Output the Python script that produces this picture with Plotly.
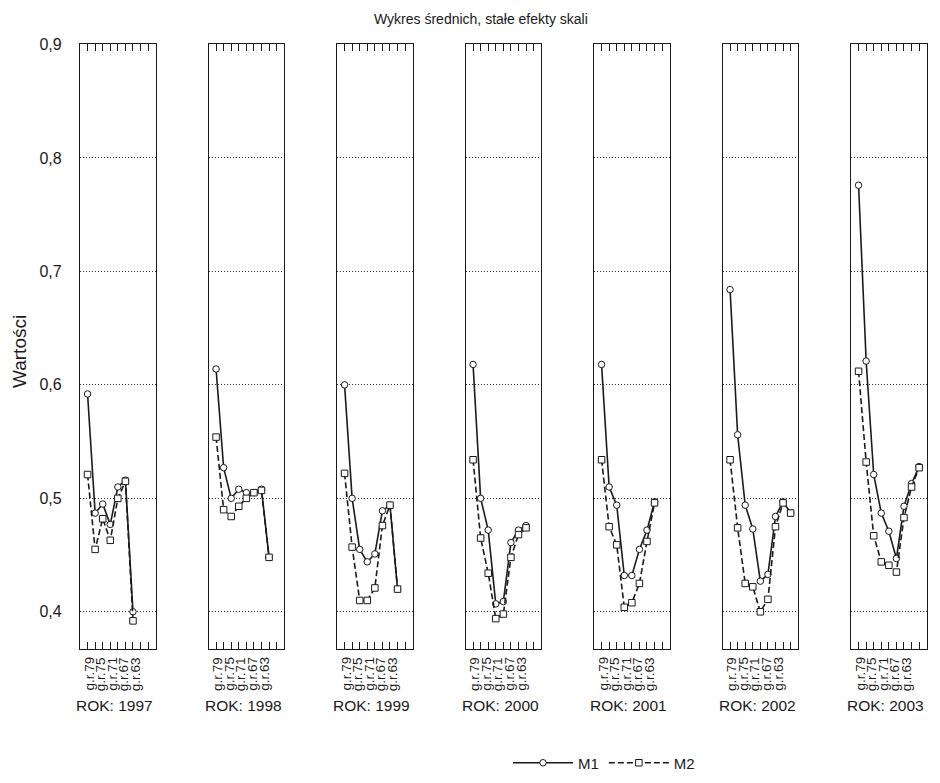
import plotly.graph_objects as go

# ---------------- data ----------------
CATEGORIES = ["g.r.79", "g.r.77", "g.r.75", "g.r.73", "g.r.71",
              "g.r.69", "g.r.67", "g.r.65", "g.r.63"]
SHOWN_LABELS = ["g.r.79", "g.r.75", "g.r.71", "g.r.67", "g.r.63"]
LABEL_POS = [0.13, 1.68, 3.2, 4.7, 6.3]   # where the original printed the labels (category units)
YEARS = ["1997", "1998", "1999", "2000", "2001", "2002", "2003"]

M1_1997 = [0.592, 0.487, 0.495, 0.477, 0.510, 0.516, 0.400]
M2_1997 = [0.521, 0.455, 0.482, 0.463, 0.500, 0.515, 0.392]
M1_1998 = [0.614, 0.527, 0.500, 0.508, 0.505, 0.505, 0.508, 0.448]
M2_1998 = [0.554, 0.490, 0.484, 0.493, 0.500, 0.505, 0.507, 0.448]
M1_1999 = [0.600, 0.500, 0.455, 0.444, 0.451, 0.489, 0.494, 0.420]
M2_1999 = [0.522, 0.457, 0.410, 0.410, 0.421, 0.476, 0.494, 0.420]
M1_2000 = [0.618, 0.500, 0.472, 0.407, 0.409, 0.461, 0.472, 0.476]
M2_2000 = [0.534, 0.465, 0.434, 0.394, 0.398, 0.448, 0.468, 0.474]
M1_2001 = [0.618, 0.510, 0.494, 0.432, 0.432, 0.455, 0.472, 0.497]
M2_2001 = [0.534, 0.475, 0.459, 0.404, 0.408, 0.425, 0.462, 0.496]
M1_2002 = [0.684, 0.556, 0.494, 0.473, 0.427, 0.433, 0.484, 0.497, 0.487]
M2_2002 = [0.534, 0.474, 0.425, 0.422, 0.400, 0.411, 0.475, 0.496, 0.487]
M1_2003 = [0.776, 0.621, 0.521, 0.487, 0.471, 0.447, 0.493, 0.513, 0.528]
M2_2003 = [0.612, 0.532, 0.467, 0.444, 0.441, 0.435, 0.483, 0.510, 0.527]

M1 = [M1_1997, M1_1998, M1_1999, M1_2000, M1_2001, M1_2002, M1_2003]
M2 = [M2_1997, M2_1998, M2_1999, M2_2000, M2_2001, M2_2002, M2_2003]

Y_TICKS = [0.4, 0.5, 0.6, 0.7, 0.8, 0.9]
Y_TICK_TEXT = ["0,4", "0,5", "0,6", "0,7", "0,8", "0,9"]

# ---------------- layout geometry ----------------
OFF = 8  # default page body margin
W, H = 940 - OFF, 783 - 2 * OFF
FONT = "Liberation Sans, Arial, sans-serif"
INK = "#1a1a1a"


def px_x(x):
    return (x - OFF) / W


def px_y(y):
    return 1 - (y - OFF) / H


PANEL_LEFT0 = 80.0
PANEL_STEP = 128.5
PANEL_W = 75.7
TOP_PX, BOT_PX = 44.3, 649.0
ydom = [px_y(BOT_PX), px_y(TOP_PX)]

fig = go.Figure()
annotations = []

for k, year in enumerate(YEARS):
    ax = "" if k == 0 else str(k + 1)
    xref = "x" + ax
    yref = "y" + ax
    m1 = M1[k]
    m2 = M2[k]
    fig.add_trace(go.Scatter(
        x=list(range(len(m1))), y=m1, xaxis=xref, yaxis=yref,
        mode="lines+markers", name="M1", showlegend=(k == 0),
        line=dict(color=INK, width=1.6),
        marker=dict(symbol="circle", size=6.5, color="white",
                    line=dict(color=INK, width=1)),
        cliponaxis=False,
    ))
    fig.add_trace(go.Scatter(
        x=list(range(len(m2))), y=m2, xaxis=xref, yaxis=yref,
        mode="lines+markers", name="M2", showlegend=(k == 0),
        line=dict(color=INK, width=1.6, dash="6px,3px"),
        marker=dict(symbol="square", size=6.5, color="white",
                    line=dict(color=INK, width=1)),
        cliponaxis=False,
    ))

    left = PANEL_LEFT0 + PANEL_STEP * k
    xdom = [px_x(left), px_x(left + PANEL_W)]
    fig.layout["xaxis" + ax] = dict(
        domain=xdom, anchor=yref, range=[-1, len(CATEGORIES)],
        tickmode="array", tickvals=list(range(len(CATEGORIES))),
        ticks="inside", ticklen=7, tickwidth=1.2, tickcolor=INK,
        showticklabels=False, showgrid=False, zeroline=False,
        showline=True, linecolor=INK, linewidth=1.3, mirror="allticks",
        automargin=False,
    )
    fig.layout["yaxis" + ax] = dict(
        domain=ydom, anchor=xref, range=[0.3672, 0.9002],
        tickmode="array", tickvals=Y_TICKS, ticktext=Y_TICK_TEXT,
        showticklabels=(k == 0), ticks="",
        ticklabelstandoff=14,
        tickfont=dict(family=FONT, size=16, color=INK),
        showgrid=True, gridcolor="#333", gridwidth=1, griddash="1px,2px",
        zeroline=False, showline=True, linecolor=INK, linewidth=1.3, mirror=True,
        automargin=False,
    )

    # category labels below panel
    for lab, pos in zip(SHOWN_LABELS, LABEL_POS):
        annotations.append(dict(
            x=pos, y=px_y(655), xref=xref, yref="paper",
            text=lab, textangle=-90, showarrow=False,
            xanchor="center", yanchor="top",
            font=dict(family=FONT, size=13.5, color=INK),
        ))
    # year label
    annotations.append(dict(
        x=px_x(left + PANEL_W / 2 - 3), y=px_y(705), xref="paper", yref="paper",
        text="ROK: " + year, showarrow=False, xanchor="center", yanchor="middle",
        font=dict(family=FONT, size=15.5, color=INK),
    ))

annotations.append(dict(
    x=px_x(481), y=px_y(8.5), xref="paper", yref="paper",
    text="Wykres średnich, stałe efekty skali", showarrow=False,
    xanchor="center", yanchor="top",
    font=dict(family=FONT, size=14, color=INK),
))
annotations.append(dict(
    x=px_x(19), y=px_y(352), xref="paper", yref="paper",
    text="Wartości", textangle=-90, showarrow=False,
    xanchor="center", yanchor="middle",
    font=dict(family=FONT, size=19, color=INK),
))

fig.update_layout(
    width=W, height=H,
    margin=dict(l=0, r=0, t=0, b=0, autoexpand=False),
    paper_bgcolor="white", plot_bgcolor="white",
    annotations=annotations,
    showlegend=True,
    legend=dict(orientation="h", x=px_x(604), y=px_y(763),
                xanchor="center", yanchor="middle",
                font=dict(family=FONT, size=15, color=INK),
                itemwidth=60, bgcolor="rgba(0,0,0,0)"),
    font=dict(family=FONT, color=INK),
)

fig.write_html("out.html", config={"displayModeBar": False})
